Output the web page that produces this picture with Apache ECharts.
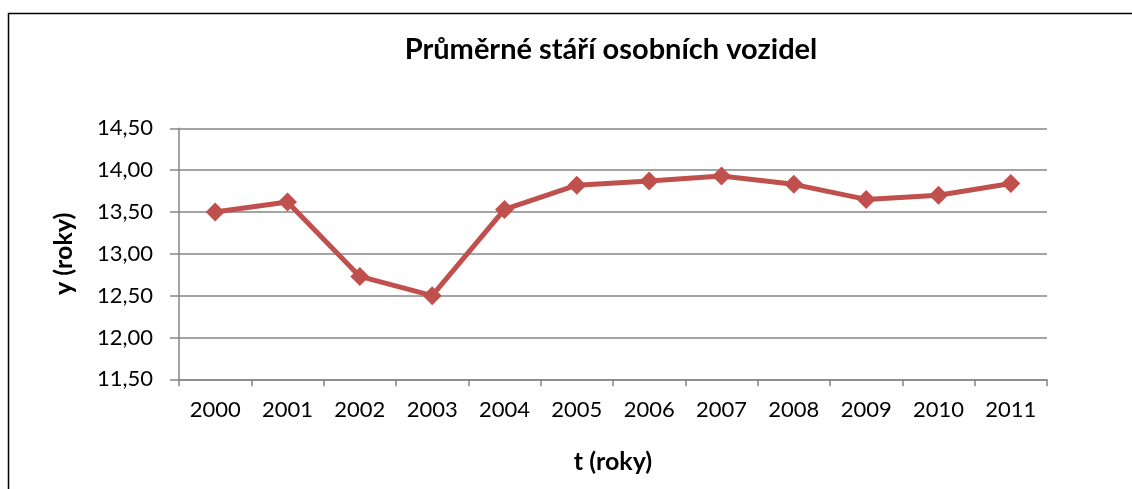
<!DOCTYPE html>
<html>
<head>
<meta charset="utf-8">
<script src="https://cdn.jsdelivr.net/npm/echarts@6/dist/echarts.min.js"></script>
<style>
  html, body { margin: 0; padding: 0; background: #fff; }
  #chart { width: 1132px; height: 489px; }
</style>
</head>
<body>
<div id="chart"></div>
<script>
// data
var years = ['2000', '2001', '2002', '2003', '2004', '2005', '2006', '2007', '2008', '2009', '2010', '2011'];
var avgAge = [13.50, 13.62, 12.73, 12.50, 13.53, 13.82, 13.87, 13.93, 13.83, 13.65, 13.70, 13.84];
var yTicks = [11.5, 12.0, 12.5, 13.0, 13.5, 14.0, 14.5];

var font = 'Lato';
var myChart = echarts.init(document.getElementById('chart'));

var option = {
  backgroundColor: '#fff',
  animation: false,
  title: {
    text: 'Průměrné stáří osobních vozidel',
    left: 606,
    top: 30,
    textAlign: 'center',
    textStyle: { fontFamily: font, fontWeight: 'bold', fontSize: 29, color: '#000' }
  },
  // frame around the chart (right and bottom edges are outside the picture)
  graphic: [{
    type: 'rect',
    shape: { x: 8.5, y: 13.5, width: 1200, height: 600 },
    style: { fill: 'none', stroke: '#000', lineWidth: 1.5 }
  }],
  grid: { left: 179, right: 85, top: 128.3, bottom: 109.7 },
  xAxis: {
    type: 'category',
    data: years,
    boundaryGap: true,
    name: 't (roky)',
    nameLocation: 'middle',
    nameGap: 70,
    nameTextStyle: { fontFamily: font, fontWeight: 'bold', fontSize: 25, color: '#000' },
    axisLine: { show: true, lineStyle: { color: '#868686', width: 1.5 } },
    axisTick: { show: true, length: 7, lineStyle: { color: '#868686', width: 1.5 } },
    axisLabel: { margin: 20, fontFamily: font, fontSize: 22, color: '#000' },
    splitLine: { show: false }
  },
  yAxis: {
    type: 'value',
    min: yTicks[0],
    max: yTicks[yTicks.length - 1],
    interval: 0.5,
    name: 'y (roky)',
    nameLocation: 'middle',
    nameRotate: 90,
    nameGap: 103,
    nameTextStyle: { fontFamily: font, fontWeight: 'bold', fontSize: 25, color: '#000' },
    axisLine: { show: true, lineStyle: { color: '#868686', width: 1.5 } },
    axisTick: { show: true, length: 9, lineStyle: { color: '#868686', width: 1.5 } },
    axisLabel: {
      margin: 26,
      fontFamily: font,
      fontSize: 22,
      color: '#000',
      formatter: function (v) { return v.toFixed(2).replace('.', ','); }
    },
    splitLine: { show: true, lineStyle: { color: '#868686', width: 1.5 } }
  },
  series: [{
    type: 'line',
    data: avgAge,
    symbol: 'diamond',
    symbolSize: 19,
    lineStyle: { color: '#C0504D', width: 5 },
    itemStyle: { color: '#C0504D' }
  }]
};

myChart.setOption(option);
</script>
</body>
</html>
